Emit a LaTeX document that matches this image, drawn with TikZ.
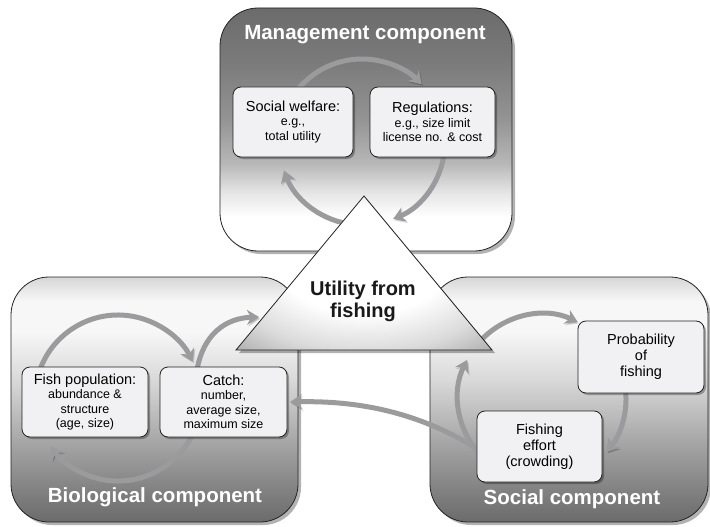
\documentclass[tikz,border=0pt]{standalone}
\usepackage{fontspec}
\setmainfont{Liberation Sans}
\usetikzlibrary{arrows.meta,shadows}
\definecolor{arrowgray}{RGB}{155,155,158}
\definecolor{boxfill}{RGB}{241,241,243}
\definecolor{edgec}{RGB}{35,35,35}
\definecolor{gA}{gray}{0.42}
\definecolor{gB}{gray}{0.48}
\definecolor{gC}{gray}{0.58}
\definecolor{gD}{gray}{0.72}
\definecolor{gE}{gray}{0.90}
\definecolor{bA}{gray}{0.42}
\definecolor{bB}{gray}{0.50}
\definecolor{bC}{gray}{0.66}
\definecolor{bD}{gray}{0.85}
\definecolor{bE}{gray}{0.97}
\definecolor{bF}{gray}{0.84}
\definecolor{tA}{gray}{0.86}
\definecolor{tB}{gray}{0.66}
\definecolor{tC}{gray}{0.60}
\pgfdeclareverticalshading{mgmtshade}{100bp}{color(0bp)=(white); color(25bp)=(white); color(32bp)=(white); color(37bp)=(gE); color(43bp)=(gD); color(52bp)=(gC); color(64bp)=(gB); color(75bp)=(gA); color(100bp)=(gA)}
\pgfdeclareverticalshading{bioshade}{100bp}{color(0bp)=(bA); color(25bp)=(bA); color(31bp)=(bB); color(42bp)=(bC); color(54bp)=(bD); color(64bp)=(bE); color(70bp)=(bE); color(75bp)=(bF); color(100bp)=(bF)}
\pgfdeclareradialshading{trishade}{\pgfpoint{0bp}{6bp}}{color(0bp)=(white); color(17bp)=(white); color(28bp)=(tA); color(38bp)=(tB); color(50bp)=(tC)}
\newcommand{\hd}{\fontsize{14.5}{16}\selectfont}
\newcommand{\sm}{\fontsize{12.5}{14.5}\selectfont}
\tikzset{
  bigbox/.style={draw=edgec, line width=0.8pt, rounded corners=38pt,
    drop shadow={shadow xshift=3pt, shadow yshift=-3pt, opacity=.3, fill=black}},
  ibox/.style={draw=edgec, line width=0.8pt, rounded corners=8pt, fill=boxfill,
    align=center, inner sep=0pt, font=\sm,
    drop shadow={shadow xshift=2pt, shadow yshift=-2pt, opacity=.3, fill=black}},
  title/.style={text=white, font=\bfseries\fontsize{20.5}{24}\selectfont, inner sep=0pt},
  arr/.style={draw=arrowgray, line width=5pt, -{Stealth[length=12pt,width=15pt,inset=4pt]},
    preaction={draw=black, opacity=.15, transform canvas={shift={(1.2pt,-1.6pt)}}}},
}
\begin{document}
\begin{tikzpicture}[x=1pt,y=-1pt]
\useasboundingbox (0,0) rectangle (710,527);
% big component boxes
\draw[bigbox, shading=mgmtshade] (220,8) rectangle (512,251);
\draw[bigbox, shading=bioshade] (11,277) rectangle (298,522);
\draw[bigbox, shading=bioshade] (430,277) rectangle (708,522);
% circle centres
\coordinate (mc) at (362,142);
\coordinate (bc) at (118,398);
\coordinate (sc) at (542,398);
% management cycle
\draw[arr] ([shift={(-145:83)}]mc) arc[start angle=-145, end angle=-44, radius=83];
\draw[arr] ([shift={(5:83)}]mc) arc[start angle=5, end angle=68, radius=83];
\draw[arr] ([shift={(100:83)}]mc) arc[start angle=100, end angle=160, radius=83];
% biological cycle
\draw[arr] ([shift={(-165:83)}]bc) arc[start angle=-165, end angle=-26, radius=83];
\draw[arr] ([shift={(15:83)}]bc) arc[start angle=15, end angle=144, radius=83];
\coordinate (c1) at (197,370);
\coordinate (c2) at (259,317);
\draw[arr] (c1) .. controls (203,335) and (225,318) .. (c2);
% social cycle
\draw[arr] ([shift={(135:84)}]sc) arc[start angle=135, end angle=207, radius=84];
\draw[arr] ([shift={(222:84)}]sc) arc[start angle=222, end angle=295, radius=84];
\draw[arr] ([shift={(-8:84)}]sc) arc[start angle=-8, end angle=40, radius=84];
% effort -> catch
\coordinate (e1) at (482,452);
\coordinate (e2) at (290,402);
\draw[arr] (e1) .. controls (430,418) and (370,400) .. (e2);
% inner boxes
\node[ibox, minimum width=120pt, minimum height=70pt] (sw) at (293,122)
  {{\hd Social welfare:}\\e.g.,\\total utility};
\node[ibox, minimum width=125pt, minimum height=70pt] (reg) at (432.5,122)
  {{\hd Regulations:}\\e.g., size limit\\license no. \& cost};
\node[ibox, minimum width=126pt, minimum height=70pt] (fish) at (85,402)
  {{\hd Fish population:}\\abundance \&\\structure\\(age, size)};
\node[ibox, minimum width=127pt, minimum height=70pt] (catch) at (223.5,402)
  {{\hd Catch:}\\number,\\average size,\\maximum size};
\node[ibox, minimum width=126pt, minimum height=72pt, font=\hd] (prob) at (641,357)
  {Probability\\of\\fishing};
\node[ibox, minimum width=125pt, minimum height=71pt, font=\hd] (eff) at (539.5,446.5)
  {Fishing\\effort\\(crowding)};
% triangle
\coordinate (ta) at (364,196);
\coordinate (tl) at (236,350);
\coordinate (tr) at (492,350);
\draw[draw=edgec, line width=0.8pt, shading=trishade,
  drop shadow={shadow xshift=3pt, shadow yshift=-3pt, opacity=.3, fill=black}]
  (ta) -- (tl) -- (tr) -- cycle;
\node[align=center, font=\bfseries\fontsize{20}{22}\selectfont, text=black!90] (util) at (363,301)
  {Utility from\\fishing};
% titles
\node[title] (mt) at (365,35) {Management component};
\node[title] (bt) at (155,497) {Biological component};
\node[title] (st) at (572,499) {Social component};
\end{tikzpicture}
\end{document}
